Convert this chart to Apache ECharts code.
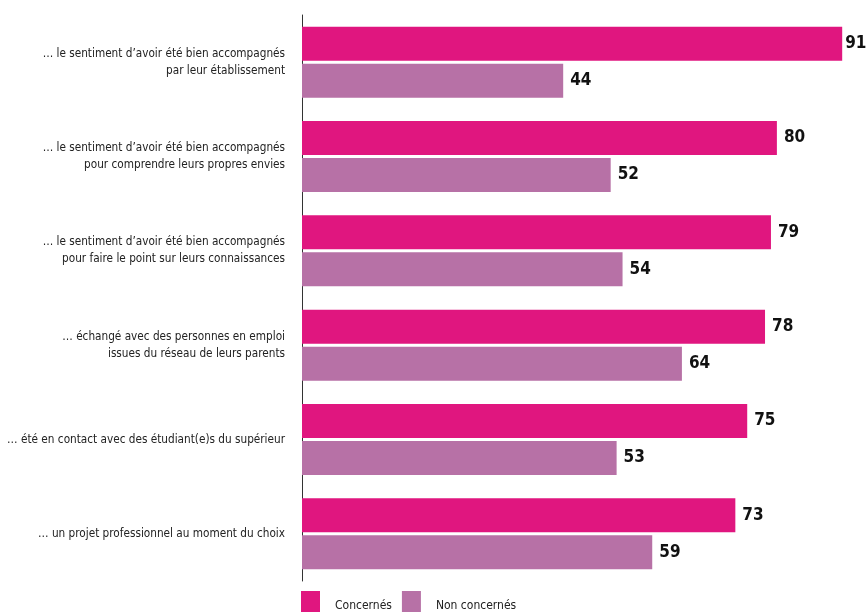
<!DOCTYPE html>
<html><head><meta charset="utf-8">
<script src="https://cdn.jsdelivr.net/npm/echarts@6/dist/echarts.min.js"></script>
<style>html,body{margin:0;padding:0;background:#fff}#c{width:866px;height:612px}</style>
</head><body><div id="c"></div>
<script>
const categories = [
  "… le sentiment d’avoir été bien accompagnés\npar leur établissement",
  "… le sentiment d’avoir été bien accompagnés\npour comprendre leurs propres envies",
  "… le sentiment d’avoir été bien accompagnés\npour faire le point sur leurs connaissances",
  "… échangé avec des personnes en emploi\nissues du réseau de leurs parents",
  "… été en contact avec des étudiant(e)s du supérieur",
  "… un projet professionnel au moment du choix"
];
const concernes = [91, 80, 79, 78, 75, 73];
const nonConcernes = [44, 52, 54, 64, 53, 59];
const seriesNames = ["Concernés", "Non concernés"];

const FONT = "'Liberation Sans Narrow', 'DejaVu Sans Condensed', sans-serif";
const chart = echarts.init(document.getElementById('c'), null, {renderer: 'canvas'});
const labelCfg = {
  show: true, position: 'right', distance: 7,
  fontFamily: FONT, fontWeight: 'bold', fontSize: 17, color: '#111'
};
const concData = concernes.map((v, i) => i === 0 ? {value: v, label: {distance: 3}} : v);
chart.setOption({
  animation: false,
  grid: {left: 302, top: 15, width: 558, height: 566, containLabel: false, outerBoundsMode: 'none'},
  legend: {
    left: 301, top: 591, padding: 0, itemWidth: 19, itemHeight: 29, itemGap: 10,
    icon: 'rect',
    textStyle: {fontFamily: FONT, fontSize: 12, color: '#222', padding: [0, 0, 0, 10]},
    data: seriesNames
  },
  xAxis: {
    type: 'value', min: 0, max: 94,
    axisLine: {show: false}, axisTick: {show: false},
    axisLabel: {show: false}, splitLine: {show: false}
  },
  yAxis: {
    type: 'category', inverse: true, data: categories,
    axisLine: {show: true, lineStyle: {color: '#333', width: 1}},
    axisTick: {show: false},
    axisLabel: {
      fontFamily: FONT, fontSize: 11.7, color: '#222', margin: 17,
      lineHeight: 17, align: 'right'
    }
  },
  series: [
    {name: seriesNames[0], type: 'bar', data: concData, barWidth: 34, barGap: '9%',
     itemStyle: {color: '#E0167F'}, label: labelCfg},
    {name: seriesNames[1], type: 'bar', data: nonConcernes, barWidth: 34, barGap: '9%',
     itemStyle: {color: '#B771A6'}, label: labelCfg}
  ]
});
</script></body></html>
